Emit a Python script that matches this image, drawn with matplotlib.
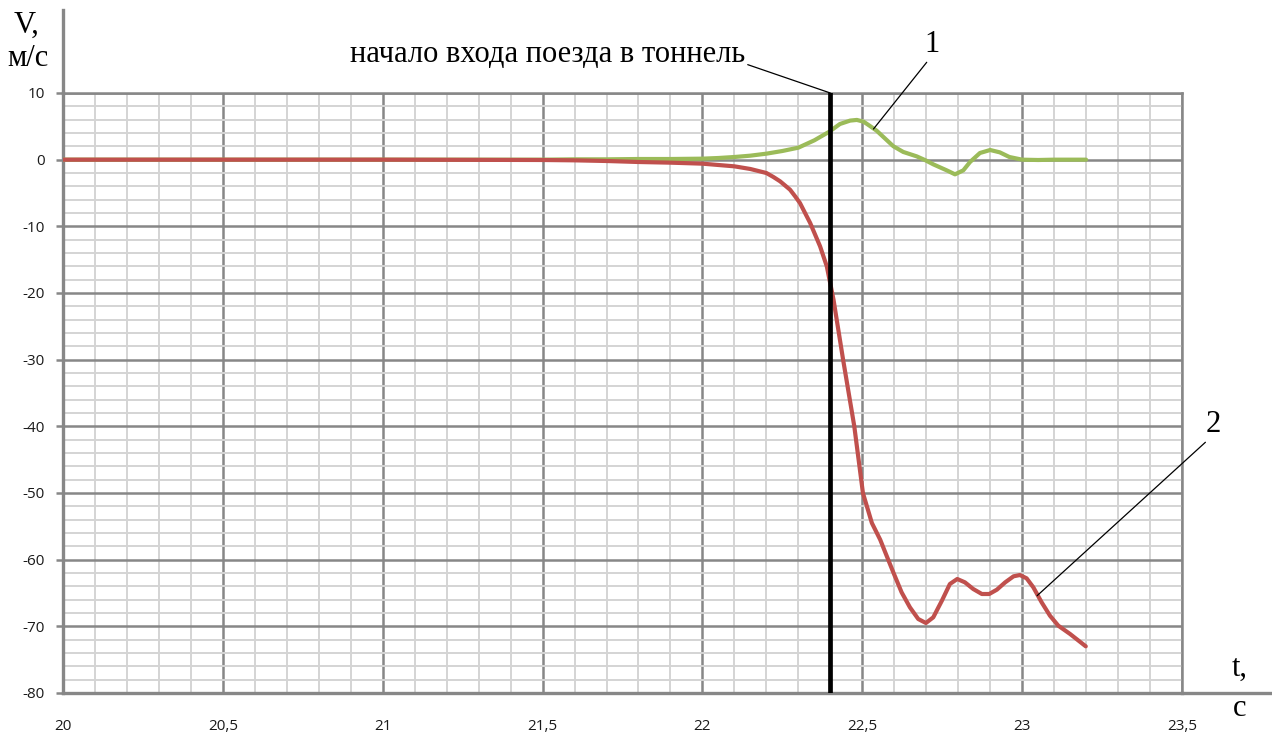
import matplotlib
matplotlib.use("Agg")
import matplotlib.pyplot as plt
from matplotlib.ticker import MultipleLocator, FuncFormatter
from matplotlib.lines import Line2D

plt.rcParams["axes.unicode_minus"] = False

# curve 1 (green)
t1 = [20.0, 20.5, 21.0, 21.5, 21.6, 21.7, 21.8, 21.9, 22.0, 22.05, 22.1, 22.15, 22.2,
      22.25, 22.3, 22.35, 22.397, 22.43, 22.462, 22.483, 22.504, 22.524, 22.545,
      22.571, 22.597, 22.628, 22.67, 22.698, 22.722, 22.764, 22.79, 22.816, 22.837,
      22.868, 22.9, 22.93, 22.96, 23.0, 23.05, 23.1, 23.2]
v1 = [0.0, 0.0, 0.0, 0.0, 0.05, 0.05, 0.1, 0.1, 0.15, 0.25, 0.4, 0.6, 0.9,
      1.3, 1.8, 2.9, 4.2, 5.35, 5.86, 5.96, 5.7, 5.05, 4.34,
      3.18, 2.02, 1.16, 0.5, -0.1, -0.7, -1.6, -2.2, -1.6, -0.35,
      1.0, 1.45, 1.1, 0.4, 0.0, -0.05, 0.0, 0.0]

# curve 2 (red)
t2 = [20.0, 20.5, 21.0, 21.5, 21.6, 21.7, 21.8, 21.9, 22.0, 22.05, 22.1, 22.15, 22.2,
      22.222, 22.243, 22.274, 22.29, 22.305, 22.337, 22.368, 22.389, 22.41, 22.44,
      22.475, 22.502, 22.53, 22.556, 22.576, 22.597, 22.623, 22.649, 22.675, 22.699,
      22.722, 22.749, 22.774, 22.797, 22.821, 22.847, 22.874, 22.897, 22.921, 22.947,
      22.973, 22.993, 23.014, 23.035, 23.061, 23.087, 23.113, 23.15, 23.199]
v2 = [0.0, 0.0, 0.0, -0.05, -0.1, -0.2, -0.35, -0.45, -0.6, -0.8, -1.0, -1.4, -2.0,
      -2.6, -3.25, -4.5, -5.5, -6.5, -9.5, -13.0, -16.0, -21.0, -30.0,
      -40.0, -50.0, -54.5, -57.0, -59.4, -61.9, -64.9, -67.15, -68.9, -69.5,
      -68.65, -66.15, -63.65, -62.9, -63.4, -64.4, -65.15, -65.15, -64.5, -63.4,
      -62.5, -62.3, -62.8, -64.15, -66.4, -68.4, -69.9, -71.15, -73.0]

entry_time = 22.4
x_ticks = [20, 20.5, 21, 21.5, 22, 22.5, 23, 23.5]
y_ticks = list(range(-80, 11, 10))

serif = ["Liberation Serif", "DejaVu Serif"]
major_c = "#878787"
minor_c = "#d4d4d4"

fig = plt.figure(figsize=(12.72, 7.32), dpi=100)
ax = fig.add_axes([63 / 1272, 39 / 732, 1119 / 1272, 600 / 732])

ax.set_xlim(20, 23.5)
ax.set_ylim(-80, 10)
ax.set_xticks(x_ticks)
ax.set_yticks(y_ticks)
ax.xaxis.set_minor_locator(MultipleLocator(0.1))
ax.yaxis.set_minor_locator(MultipleLocator(2))
ax.grid(which="major", color=major_c, lw=1.8, zorder=1)
ax.grid(which="minor", color=minor_c, lw=1.4, zorder=0)
ax.set_axisbelow(True)

comma = FuncFormatter(lambda v, p: f"{v:g}".replace(".", ","))
ax.xaxis.set_major_formatter(comma)
ax.tick_params(axis="x", which="both", length=0, pad=19, labelsize=11, labelcolor="#1a1a1a")
ax.tick_params(axis="y", which="major", length=5, width=1.8, color=major_c, pad=8,
               labelsize=11, labelcolor="#1a1a1a")
ax.tick_params(axis="y", which="minor", length=0)
for lab in ax.get_xticklabels() + ax.get_yticklabels():
    lab.set_family(["Open Sans", "DejaVu Sans"])

for s in ax.spines.values():
    s.set_color(major_c)
    s.set_linewidth(1.8)
ax.spines["left"].set_linewidth(2.4)
ax.spines["bottom"].set_linewidth(2.4)

# axis lines run past the grid
ax.add_line(Line2D([0, 0], [1, 1.138], transform=ax.transAxes, color=major_c,
                   lw=2.4, clip_on=False))
ax.add_line(Line2D([1, 1.081], [0, 0], transform=ax.transAxes, color=major_c,
                   lw=2.4, clip_on=False))

ax.plot(t1, v1, color="#9bbb59", lw=3, zorder=3, solid_capstyle="round",
        solid_joinstyle="round")
ax.plot(t2, v2, color="#c0504d", lw=3, zorder=3, solid_capstyle="round",
        solid_joinstyle="round")
ax.axvline(entry_time, color="black", lw=3.4, zorder=4)

ax.annotate("начало входа поезда в тоннель", xy=(entry_time, 10), xytext=(22.133, 15.7),
            ha="right", va="center", family=serif, fontsize=22,
            annotation_clip=False,
            arrowprops=dict(arrowstyle="-", color="black", lw=0.9, relpos=(1, 0.2),
                            shrinkA=0, shrinkB=0))
ax.annotate("1", xy=(22.535, 4.6), xytext=(22.718, 17.2), ha="center", va="center",
            family=serif, fontsize=22, annotation_clip=False,
            arrowprops=dict(arrowstyle="-", color="black", lw=0.9, relpos=(0.3, 0),
                            shrinkA=0, shrinkB=0))
ax.annotate("2", xy=(23.047, -65.4), xytext=(23.597, -39.8), ha="center", va="center",
            family=serif, fontsize=22, annotation_clip=False,
            arrowprops=dict(arrowstyle="-", color="black", lw=0.9, relpos=(0.2, 0),
                            shrinkA=0, shrinkB=0))

fig.text(26 / 1272, 1 - 25 / 732, "V,", ha="center", va="center", family=serif, fontsize=22)
fig.text(28 / 1272, 1 - 59 / 732, "м/с", ha="center", va="center", family=serif, fontsize=22)
fig.text(1240 / 1272, 1 - 668 / 732, "t,", ha="center", va="center", family=serif, fontsize=22)
fig.text(1240 / 1272, 1 - 708 / 732, "с", ha="center", va="center", family=serif, fontsize=22)

fig.savefig("out.png", dpi=100, facecolor="white")
